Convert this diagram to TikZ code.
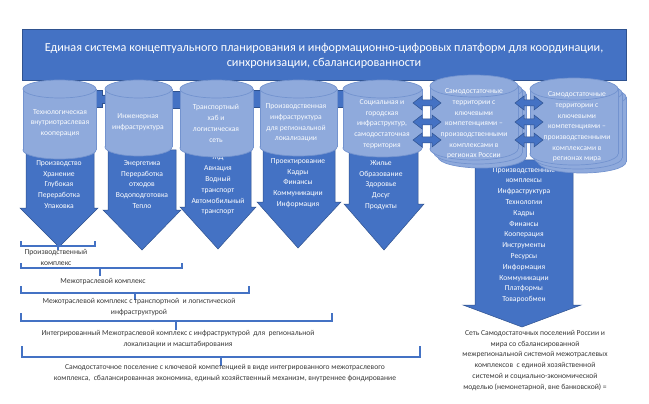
\documentclass[tikz,border=0pt]{standalone}
\usepackage{fontspec}
\setmainfont{Carlito}
\definecolor{bannerblue}{HTML}{4472C4}
\definecolor{edgeblue}{HTML}{2F528F}
\definecolor{cylblue}{HTML}{8FAADC}
\definecolor{cyledge}{HTML}{7393CF}
\definecolor{labelgray}{HTML}{3A3A3A}
\tikzset{
  bluefill/.style={fill=bannerblue, draw=edgeblue, line width=0.5pt, line join=miter},
  cylstyle/.style={fill=cylblue, draw=cyledge, line width=0.7pt},
  cylside/.style={draw=cyledge, line width=0.7pt},
  brc/.style={draw=bannerblue, line width=1.3pt},
  wtxt/.style={align=center, font=\fontsize{7.6}{10.8}\selectfont, text=white, inner sep=0pt},
  ctxt/.style={align=center, font=\fontsize{7.6}{10.7}\selectfont, text=white!96!cylblue, inner sep=0pt},
  gtxt/.style={align=center, font=\fontsize{7.6}{10.9}\selectfont, text=labelgray, inner sep=0pt},
}
\newcommand{\drawcyl}[5]{%
  \pgfmathsetmacro{\cylcx}{(#1+#2)/2}%
  \pgfmathsetmacro{\cylrx}{(#2-#1)/2}%
  \pgfmathsetmacro{\cylyb}{#4-#5}%
  \pgfmathsetmacro{\cylyt}{#3+#5}%
  \filldraw[cylstyle] (\cylcx,\cylyb) ellipse[x radius=\cylrx pt, y radius=#5pt];
  \fill[cylblue] (#1,\cylyt) rectangle (#2,\cylyb);
  \draw[cylside] (#1,\cylyt) -- (#1,\cylyb) (#2,\cylyt) -- (#2,\cylyb);
  \filldraw[cylstyle] (\cylcx,\cylyt) ellipse[x radius=\cylrx pt, y radius=#5pt];
}
\newcommand{\downarr}[8]{% top, L, R, h, WL, WR, tipx, tipy
  \filldraw[bluefill] (#2,#1) -- (#3,#1) -- (#3,#4) -- (#6,#4) -- (#7,#8) -- (#5,#4) -- (#2,#4) -- cycle;
}
\newcommand{\dblarr}[3]{% x1, x2, y
  \filldraw[bluefill] (#1,#3) -- ({#1+9},{#3-7}) -- ({#1+9},{#3-3}) -- ({#2-9},{#3-3}) -- ({#2-9},{#3-7}) -- (#2,#3)
    -- ({#2-9},{#3+7}) -- ({#2-9},{#3+3}) -- ({#1+9},{#3+3}) -- ({#1+9},{#3+7}) -- cycle;
}
\newcommand{\plusshape}[2]{% cx, cy
  \filldraw[bluefill] ({#1-4.5},{#2-8.5}) -- ({#1+4.5},{#2-8.5}) -- ({#1+4.5},{#2-4}) -- ({#1+11},{#2-4})
    -- ({#1+11},{#2+4}) -- ({#1+4.5},{#2+4}) -- ({#1+4.5},{#2+8.5}) -- ({#1-4.5},{#2+8.5})
    -- ({#1-4.5},{#2+4}) -- ({#1-11},{#2+4}) -- ({#1-11},{#2-4}) -- ({#1-4.5},{#2-4}) -- cycle;
}
\begin{document}
\begin{tikzpicture}[x=1pt,y=-1pt]
\useasboundingbox (0,0) rectangle (649,404);
\fill[white] (0,0) rectangle (649,404);

% banner
\filldraw[bluefill] (22,29) rectangle (626,80);
\node[align=center, font=\fontsize{12.2}{15}\selectfont, text=white, inner sep=0pt] (banner) at (324,55.5)
  {Единая система концептуального планирования и информационно-цифровых платформ для координации,\\ синхронизации, сбалансированности};

% plus connectors
\plusshape{98}{99}
\plusshape{176}{100}
\plusshape{256}{99}
\plusshape{339}{99}

% down arrows
\downarr{150}{26}{94}{208}{20}{98}{59}{247}
\downarr{150}{108}{176}{210}{103}{181}{142}{250}
\downarr{150}{185}{251}{207}{180}{256}{218}{249}
\downarr{150}{263}{335}{202}{257}{341}{298}{248}
\downarr{150}{349}{418}{204}{344}{424}{384}{250}
\downarr{160}{475}{573}{305}{463}{581}{522}{327}

% arrow texts
\node[wtxt] (a1) at (59,184.5) {Производство\\Хранение\\Глубокая\\Переработка\\Упаковка};
\node[wtxt] (a2) at (142,184.5) {Энергетика\\Переработка\\отходов\\Водоподготовка\\Тепло};
\node[wtxt] (a3) at (218,185) {ЖД\\Авиация\\Водный\\транспорт\\Автомобильный\\транспорт};
\node[wtxt] (a4) at (298,183) {Проектирование\\Кадры\\Финансы\\Коммуникации\\Информация};
\node[wtxt] (a5) at (381,185) {Жилье\\Образование\\Здоровье\\Досуг\\Продукты};
\node[wtxt] (a6) at (524,235) {Производственные\\комплексы\\Инфраструктура\\Технологии\\Кадры\\Финансы\\Кооперация\\Инструменты\\Ресурсы\\Информация\\Коммуникации\\Платформы\\Товарообмен};

% cylinders
\drawcyl{23}{96}{80}{159}{9}
\drawcyl{105}{172}{80}{156}{9}
\drawcyl{180}{253}{80}{157}{9}
\drawcyl{260}{337}{80}{156}{9}
\drawcyl{343}{422}{80}{157}{9}
% stacked cylinder 6
\drawcyl{438}{526}{83}{168}{11}
\drawcyl{434}{522}{79}{164}{11}
\drawcyl{430}{518}{75}{160}{11}
% stacked cylinder 7
\drawcyl{538}{626}{86}{173}{11}
\drawcyl{534}{622}{82}{169}{11}
\drawcyl{530}{618}{78}{165}{11}

% cylinder texts
\node[ctxt] (c1) at (60,123) {Технологическая\\внутриотраслевая\\кооперация};
\node[ctxt] (c2) at (138,122) {Инженерная\\инфраструктура};
\node[ctxt] (c3) at (216,123.5) {Транспортный\\хаб и\\логистическая\\сеть};
\node[ctxt] (c4) at (296,123) {Производственная\\инфраструктура\\для региональной\\локализации};
\node[ctxt] (c5) at (382,124) {Социальная и\\городская\\инфраструктур,\\самодостаточная\\территория};
\node[ctxt] (c6) at (474,124) {Самодостаточные\\территории с\\ключевыми\\компетенциями –\\производственными\\комплексами в\\регионах России};
\node[ctxt] (c7) at (577,127) {Самодостаточные\\территории с\\ключевыми\\компетенциями –\\производственными\\комплексами в\\регионах мира};

% double arrows
\dblarr{413}{441}{103}
\dblarr{413}{441}{122}
\dblarr{413}{441}{140}
\dblarr{515}{543}{103}
\dblarr{515}{543}{122}
\dblarr{515}{543}{140}

% braces
\draw[brc] (21,241) -- (21,246) -- (95,246) -- (95,241) (58,246) -- (58,250);
\draw[brc] (21,263) -- (21,268) -- (182,268) -- (182,263) (100,268) -- (100,276);
\draw[brc] (21,286) -- (21,293) -- (249,293) -- (249,286) (135,293) -- (135,300);
\draw[brc] (21,313) -- (21,321) -- (332,321) -- (332,313) (176,321) -- (176,330);
\draw[brc] (22,346) -- (22,357) -- (420,357) -- (420,346) (221,357) -- (221,366);

% brace labels
\node[gtxt] (b1) at (56,257.5) {Производственный\\комплекс};
\node[gtxt] (b2) at (103,282) {Межотраслевой комплекс};
\node[gtxt] (b3) at (139,307) {Межотраслевой комплекс с транспортной \ и логистической\\инфраструктурой};
\node[gtxt] (b4) at (178,339.5) {Интегрированный Межотраслевой комплекс с инфраструктурой \ для \ региональной\\локализации и масштабирования};
\node[gtxt] (b5) at (225,373.5) {Самодостаточное поселение с ключевой компетенцией в виде интегрированного межотраслевого\\комплекса, \ сбалансированная экономика, единый хозяйственный механизм, внутреннее фондирование};
\node[gtxt] (r1) at (535,360.5) {Сеть Самодостаточных поселений России и\\мира со сбалансированной\\межрегиональной системой межотраслевых\\комплексов \ с единой хозяйственной\\системой и социально-экономической\\моделью (немонетарной, вне банковской) =};
\end{tikzpicture}
\end{document}
